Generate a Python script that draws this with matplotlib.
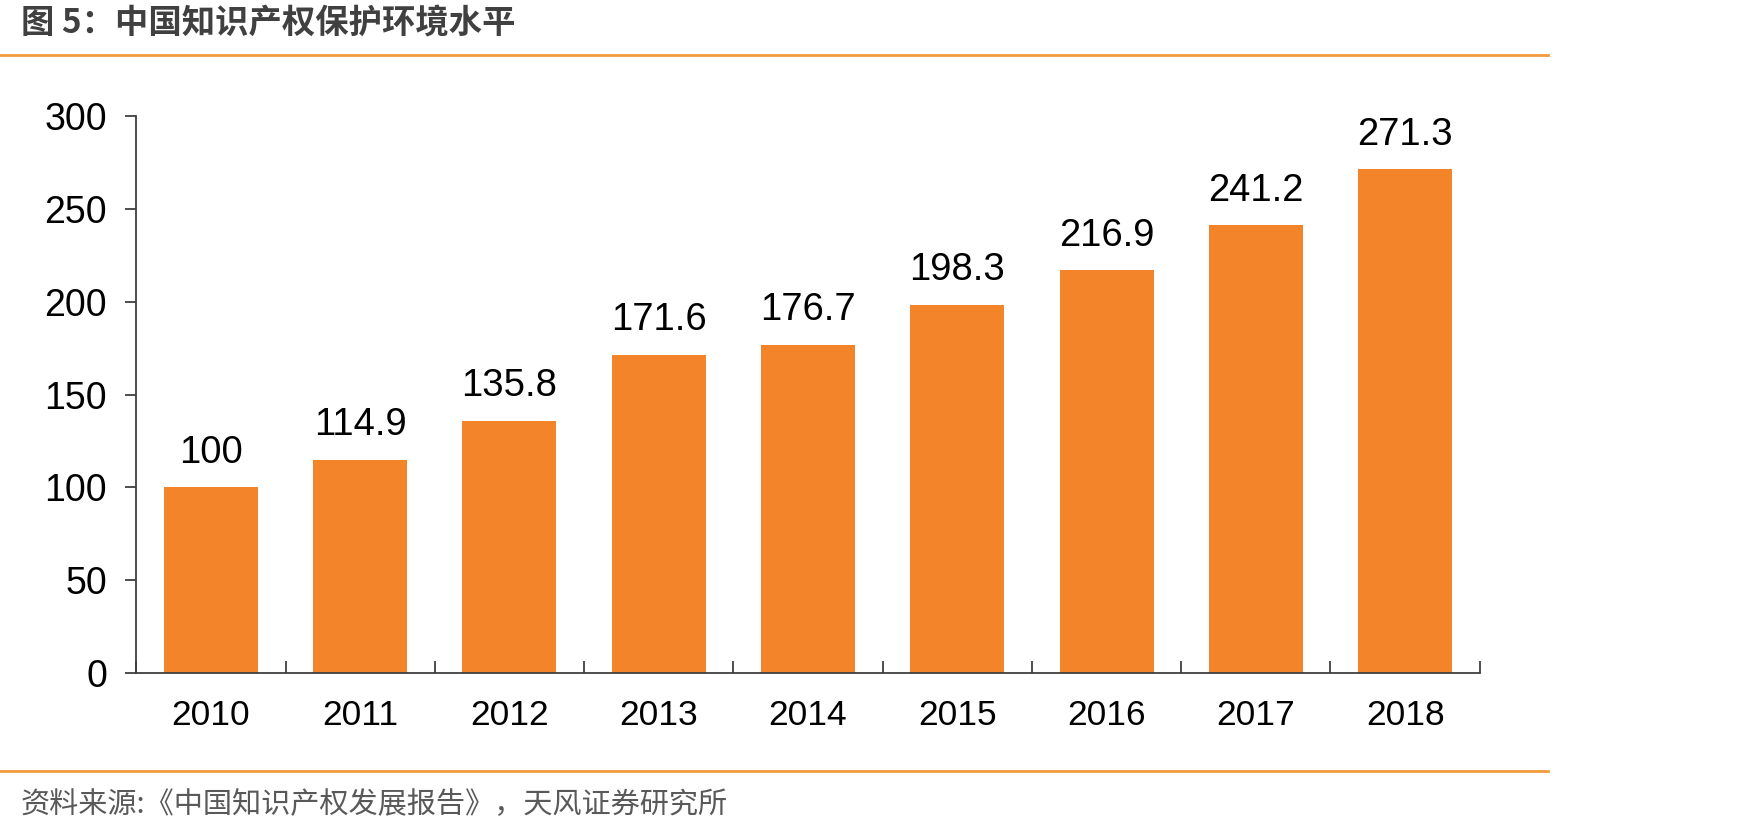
import matplotlib.pyplot as plt
import numpy as np

plt.rcParams['font.family'] = ['Liberation Sans', 'Noto Sans CJK SC', 'DejaVu Sans']

# Datos
years = ['2010', '2011', '2012', '2013', '2014', '2015', '2016', '2017', '2018']
values = [100, 114.9, 135.8, 171.6, 176.7, 198.3, 216.9, 241.2, 271.3]
value_labels = ['100', '114.9', '135.8', '171.6', '176.7', '198.3', '216.9', '241.2', '271.3']

bar_color = '#F4842A'
line_color = '#F39A3C'
axis_color = '#404040'

fig = plt.figure(figsize=(17.47, 8.36), dpi=100)
ax = fig.add_axes([0.078, 0.195, 0.769, 0.666])

x = np.arange(len(years))
bars = ax.bar(x, values, width=0.63, color=bar_color, zorder=2)

for xi, v, lab in zip(x, values, value_labels):
    ax.text(xi, v + 9, lab, ha='center', va='bottom', fontsize=27.5, color='black')

# Ejes
ax.set_xlim(-0.5, len(years) - 0.5)
ax.set_ylim(0, 300)
ax.set_yticks(np.arange(0, 301, 50))
ax.set_xticks(x)
ax.set_xticklabels(years)
ax.set_xticks(np.arange(-0.5, len(years), 1), minor=True)
ax.tick_params(axis='x', which='major', length=0, pad=19, labelsize=25.5, labelcolor='black')
ax.tick_params(axis='x', which='minor', direction='in', length=9, width=1.3, color=axis_color)
ax.tick_params(axis='y', direction='out', length=8, width=1.3, color=axis_color,
               labelsize=27, labelcolor='black', pad=13)
for s in ['top', 'right']:
    ax.spines[s].set_visible(False)
for s in ['left', 'bottom']:
    ax.spines[s].set_color(axis_color)
    ax.spines[s].set_linewidth(1.3)

# Título y fuente
fig.text(0.012, 0.971, '图 5：中国知识产权保护环境水平', ha='left', va='center',
         fontsize=24, fontweight='bold', color='#404040',
         family=['Noto Sans CJK SC', 'DejaVu Sans'])
fig.add_artist(plt.Line2D([0, 0.886], [0.934, 0.934], color=line_color, lw=2))
fig.add_artist(plt.Line2D([0, 0.886], [0.078, 0.078], color=line_color, lw=2))
fig.text(0.012, 0.037, '资料来源:《中国知识产权发展报告》，天风证券研究所', ha='left', va='center',
         fontsize=21, color='#595959', family=['Noto Sans CJK SC', 'DejaVu Sans'])

fig.savefig('out.png', dpi=100)
